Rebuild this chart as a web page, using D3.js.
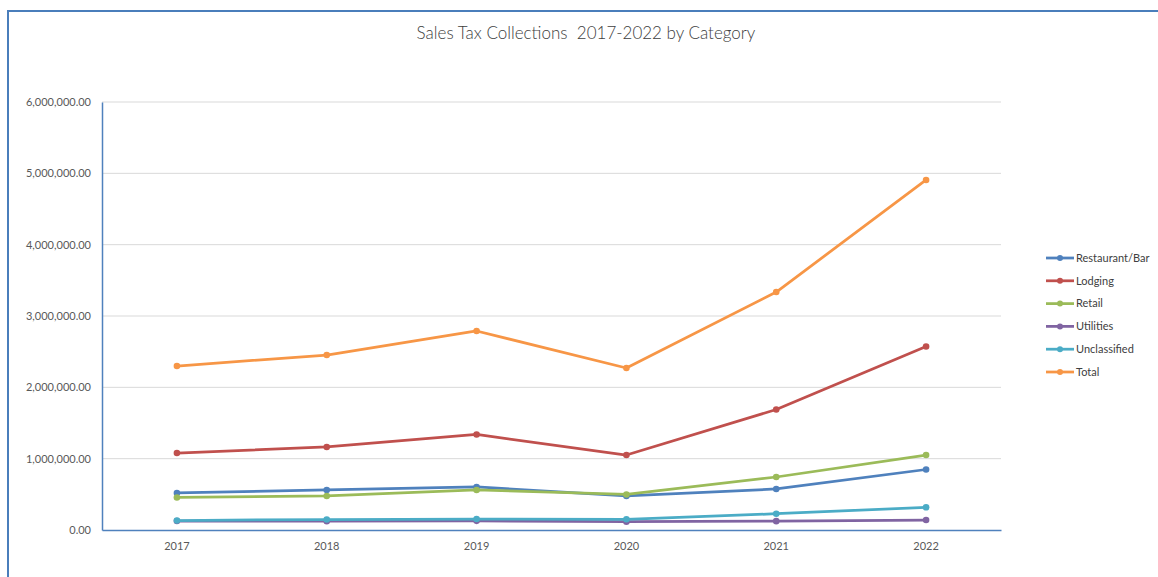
<!DOCTYPE html>
<html>
<head>
<meta charset="utf-8">
<script src="https://cdn.jsdelivr.net/npm/d3@7"></script>
<style>
  body { margin: 0; background: #fff; }
  svg { display: block; font-family: Lato, "Open Sans", sans-serif; }
</style>
</head>
<body>
<div id="chart"></div>
<script>
// chart data
const years = ['2017', '2018', '2019', '2020', '2021', '2022'];
const restaurantBar = [519000, 561000, 603000, 477000, 575000, 848000];
const lodging = [1079000, 1164000, 1339000, 1051000, 1689000, 2572000];
const retail = [456000, 477000, 561000, 498000, 743000, 1051000];
const utilities = [126000, 124000, 128000, 116000, 124000, 140000];
const unclassified = [133000, 147000, 154000, 150000, 228000, 318000];
const total = [2299000, 2453000, 2790000, 2271000, 3336000, 4907000];
const yTicks = [0, 1000000, 2000000, 3000000, 4000000, 5000000, 6000000];

const series = [
  { name: 'Restaurant/Bar', values: restaurantBar, color: '#4F81BD' },
  { name: 'Lodging', values: lodging, color: '#C0504D' },
  { name: 'Retail', values: retail, color: '#9BBB59' },
  { name: 'Utilities', values: utilities, color: '#8064A2' },
  { name: 'Unclassified', values: unclassified, color: '#4BACC6' },
  { name: 'Total', values: total, color: '#F79646' }
];

const width = 1158, height = 577;
const svg = d3.select('#chart').append('svg')
  .attr('width', width)
  .attr('height', height);

// outer chart frame (only top and left visible)
svg.append('path')
  .attr('d', `M8,${height} L8,11 L${width},11`)
  .attr('fill', 'none')
  .attr('stroke', '#4A7EBB')
  .attr('stroke-width', 2);

// title
svg.append('text')
  .attr('x', 586)
  .attr('y', 39)
  .attr('text-anchor', 'middle')
  .style('font-size', '17px')
  .style('font-weight', 300)
  .style('white-space', 'pre')
  .style('fill', '#404040')
  .text('Sales Tax Collections  2017-2022 by Category');

// scales
const x = d3.scaleBand()
  .domain(years)
  .range([102, 1001])
  .padding(0);

const y = d3.scaleLinear()
  .domain([0, 6000000])
  .range([530, 102]);

const fmt = d3.format(',.2f');

// gridlines
svg.append('g')
  .selectAll('line')
  .data(yTicks.filter(d => d > 0))
  .enter().append('line')
  .attr('x1', 102)
  .attr('x2', 1001)
  .attr('y1', d => y(d))
  .attr('y2', d => y(d))
  .attr('stroke', '#D9D9D9')
  .attr('stroke-width', 1);

// Y axis
const yAxisGroup = svg.append('g')
  .attr('transform', 'translate(102,0)')
  .call(d3.axisLeft(y).tickValues(yTicks).tickFormat(fmt).tickSize(0).tickPadding(11));
yAxisGroup.select('.domain').attr('stroke', '#4F81BD').attr('stroke-width', 1.5);
yAxisGroup.selectAll('text')
  .style('font-size', '11px')
  .style('fill', '#595959')
  .style('font-family', 'Lato, sans-serif');

// X axis
const xAxisGroup = svg.append('g')
  .attr('transform', 'translate(0,530)')
  .call(d3.axisBottom(x).tickSize(0).tickPadding(12));
xAxisGroup.select('.domain').attr('stroke', '#4F81BD').attr('stroke-width', 1.5);
xAxisGroup.selectAll('text')
  .style('font-size', '11px')
  .style('fill', '#595959')
  .style('font-family', 'Lato, sans-serif');

// lines
const line = d3.line()
  .x((d, i) => x(years[i]) + x.bandwidth() / 2)
  .y(d => y(d));

series.forEach(s => {
  const g = svg.append('g');
  g.append('path')
    .attr('d', line(s.values))
    .attr('fill', 'none')
    .attr('stroke', s.color)
    .attr('stroke-width', 2.75)
    .attr('stroke-linejoin', 'round');
  g.selectAll('circle')
    .data(s.values)
    .enter().append('circle')
    .attr('cx', (d, i) => x(years[i]) + x.bandwidth() / 2)
    .attr('cy', d => y(d))
    .attr('r', 3.3)
    .attr('fill', s.color);
});

// legend
const legend = svg.append('g')
  .selectAll('g')
  .data(series)
  .enter().append('g')
  .attr('transform', (d, i) => `translate(1046,${258 + i * 22.8})`);

legend.append('line')
  .attr('x1', 0)
  .attr('x2', 28)
  .attr('stroke', d => d.color)
  .attr('stroke-width', 2.75);

legend.append('circle')
  .attr('cx', 14)
  .attr('r', 3)
  .attr('fill', d => d.color);

legend.append('text')
  .attr('x', 30)
  .attr('dy', '0.35em')
  .style('font-size', '11px')
  .style('fill', '#404040')
  .text(d => d.name);
</script>
</body>
</html>
